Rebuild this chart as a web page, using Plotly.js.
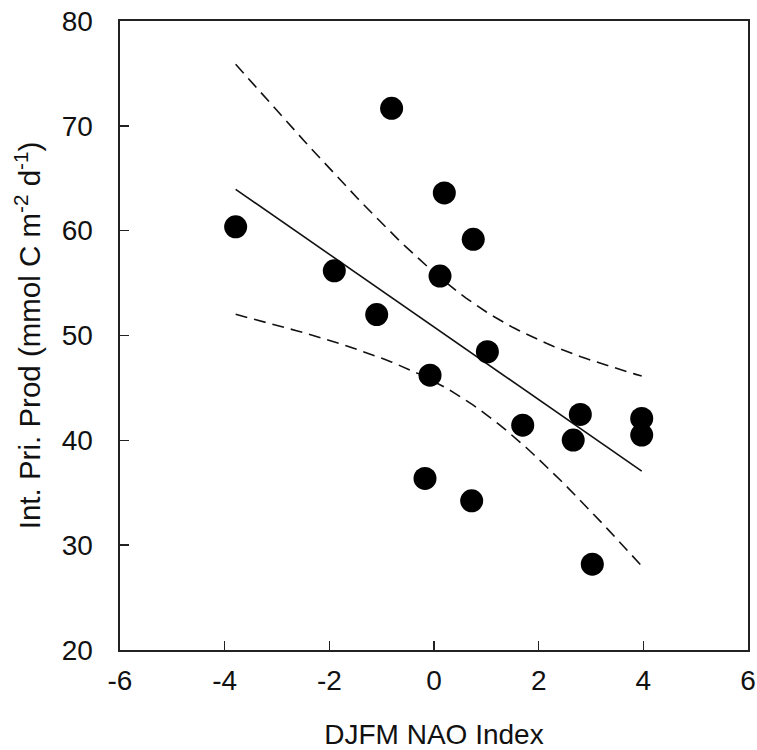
<!DOCTYPE html>
<html>
<head>
<meta charset="utf-8">
<script src="https://cdn.plot.ly/plotly-3.0.1.min.js"></script>
<style>html,body{margin:0;padding:0;background:#fff;}#chart{width:757px;height:750px;}</style>
</head>
<body>
<div id="chart"></div>
<script>
// Data
const naoIndex = [-3.79, -1.905, -1.095, -0.81, -0.172, -0.076, 0.115, 0.197, 0.72, 0.75, 1.02, 1.695, 2.66, 2.796, 3.025, 3.969, 3.969];
const intPriProd = [60.37, 56.17, 52.0, 71.67, 36.36, 46.22, 55.67, 63.6, 34.23, 59.17, 48.45, 41.45, 40.02, 42.47, 28.19, 42.09, 40.5];
const xTicks = [-6, -4, -2, 0, 2, 4, 6];
const yTicks = [20, 30, 40, 50, 60, 70, 80];
const tCrit = 2.131; // Student t, 15 d.f., 95%

// Linear regression and 95% confidence band computed from the data
const n = naoIndex.length;
const mx = naoIndex.reduce((a, b) => a + b, 0) / n;
const my = intPriProd.reduce((a, b) => a + b, 0) / n;
let sxx = 0, sxy = 0;
for (let i = 0; i < n; i++) { sxx += (naoIndex[i] - mx) ** 2; sxy += (naoIndex[i] - mx) * (intPriProd[i] - my); }
const slope = sxy / sxx, icpt = my - slope * mx;
let sse = 0;
for (let i = 0; i < n; i++) sse += (intPriProd[i] - (icpt + slope * naoIndex[i])) ** 2;
const s = Math.sqrt(sse / (n - 2));
const xmin = Math.min(...naoIndex), xmax = Math.max(...naoIndex);
const fitX = [], fitY = [], upY = [], loY = [];
const steps = 60;
for (let k = 0; k <= steps; k++) {
  const x = xmin + (xmax - xmin) * k / steps;
  const yh = icpt + slope * x;
  const hw = tCrit * s * Math.sqrt(1 / n + (x - mx) ** 2 / sxx);
  fitX.push(x); fitY.push(yh); upY.push(yh + hw); loY.push(yh - hw);
}

const font = {family: 'Arial, "Liberation Sans", sans-serif', color: '#111'};
const traces = [
  {x: fitX, y: upY, mode: 'lines', line: {color: '#111', width: 1.6, dash: '12px,7px'}, hoverinfo: 'skip'},
  {x: fitX, y: loY, mode: 'lines', line: {color: '#111', width: 1.6, dash: '12px,7px'}, hoverinfo: 'skip'},
  {x: fitX, y: fitY, mode: 'lines', line: {color: '#111', width: 1.6}, hoverinfo: 'skip'},
  {x: naoIndex, y: intPriProd, mode: 'markers', marker: {color: '#000', size: 23, line: {width: 0}}}
];
const layout = {
  width: 757, height: 750,
  margin: {l: 120, r: 9, t: 21, b: 100},
  paper_bgcolor: '#fff', plot_bgcolor: '#fff',
  showlegend: false,
  font: Object.assign({size: 28}, font),
  xaxis: {
    range: [-6, 6], tickvals: xTicks, ticktext: xTicks.map(String),
    showgrid: false, zeroline: false, showline: true, mirror: true,
    linecolor: '#222', linewidth: 1.6, ticks: 'inside', ticklen: 9, tickwidth: 1.4, tickcolor: '#222',
    tickfont: Object.assign({size: 28}, font), ticklabelstandoff: 5,
    title: {text: 'DJFM NAO Index', font: Object.assign({size: 28}, font), standoff: 31}
  },
  yaxis: {
    range: [20, 80], tickvals: yTicks, ticktext: yTicks.map(String),
    showgrid: false, zeroline: false, showline: true, mirror: true,
    linecolor: '#222', linewidth: 1.6, ticks: 'inside', ticklen: 9, tickwidth: 1.4, tickcolor: '#222',
    tickfont: Object.assign({size: 28}, font), ticklabelstandoff: 20,
    title: {text: 'Int. Pri. Prod (mmol C m<sup>-2</sup> d<sup>-1</sup>)', font: Object.assign({size: 29.5}, font), standoff: 12}
  }
};
Plotly.newPlot('chart', traces, layout, {staticPlot: true, displayModeBar: false});
</script>
</body>
</html>
